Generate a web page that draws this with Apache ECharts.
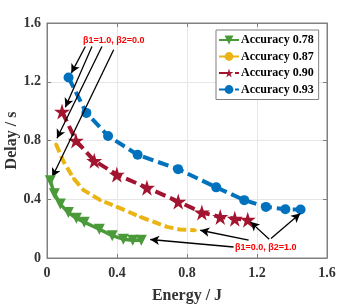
<!DOCTYPE html>
<html><head><meta charset="utf-8">
<script src="https://cdn.jsdelivr.net/npm/echarts@6/dist/echarts.min.js"></script>
<style>html,body{margin:0;padding:0;background:#fff}#c{width:360px;height:305px}</style>
</head><body><div id="c"></div>
<script>
const xTicks = [0, 0.4, 0.8, 1.2, 1.6];
const yTicks = [0, 0.4, 0.8, 1.2, 1.6];
const seriesNames = ['Accuracy 0.78', 'Accuracy 0.87', 'Accuracy 0.90', 'Accuracy 0.93'];
const green = [[0.019,0.526],[0.042,0.438],[0.076,0.367],[0.122,0.309],[0.168,0.271],[0.213,0.244],[0.299,0.196],[0.373,0.152],[0.436,0.128],[0.490,0.121],[0.539,0.121]];
const yellow = [[0.051,0.776],[0.095,0.655],[0.152,0.542],[0.209,0.462],[0.305,0.394],[0.400,0.348],[0.533,0.280],[0.686,0.212],[0.760,0.194],[0.847,0.189]];
const red = [[0.086,0.997],[0.165,0.800],[0.270,0.662],[0.399,0.568],[0.571,0.479],[0.750,0.384],[0.885,0.310],[0.990,0.280],[1.073,0.268],[1.147,0.261]];
const blue = [[0.123,1.229],[0.225,0.988],[0.349,0.831],[0.518,0.703],[0.749,0.605],[0.967,0.481],[1.127,0.394],[1.251,0.348],[1.362,0.332],[1.449,0.330]];
const topNote = 'β1=1.0, β2=0.0';
const bottomNote = 'β1=0.0, β2=1.0';
const topNotePos = [0.382, 1.479];
const bottomNotePos = [1.25, 0.073];
const topArrows = [[[0.219,1.440],[0.139,1.259]],[[0.257,1.440],[0.105,1.027]],[[0.314,1.440],[0.057,0.815]],[[0.381,1.418],[0.030,0.551]]];
const bottomArrows = [[[1.28,0.132],[1.447,0.303]],[[1.270,0.128],[1.162,0.246]],[[1.152,0.121],[0.876,0.189]],[[1.066,0.075],[0.590,0.126]]];

const colors = ['#4B9A3A', '#EAB514', '#A2142F', '#0072BD'];
const star = 'path://M50,0 L61,35 L98,35 L68,57 L79,91 L50,70 L21,91 L32,57 L2,35 L39,35 Z';
const serif = '"Liberation Serif", "DejaVu Serif", serif';
const fmt = v => String(+v.toFixed(1));

const chart = echarts.init(document.getElementById('c'));
const axisBase = {
  min: 0, max: 1.6, interval: 0.4,
  axisLine: {show: true, onZero: false, lineStyle: {color: '#808080', width: 1}},
  axisTick: {show: true, inside: true, length: 4, lineStyle: {color: '#808080'}},
};
const arrowLines = (arr) => arr.map(a => [{coord: a[0]}, {coord: a[1]}]);
chart.setOption({
  animation: false,
  color: colors,
  grid: {left: 47, right: 33, top: 23, bottom: 47, show: true, borderColor: '#808080', borderWidth: 1,
    containLabel: false, outerBoundsMode: 'none'},
  legend: {
    orient: 'vertical', left: 216, top: 30, itemWidth: 20, itemHeight: 11, itemGap: 4.5,
    padding: [4, 5, 4, 2],
    borderColor: '#808080', borderWidth: 1, backgroundColor: '#fff',
    data: seriesNames,
    textStyle: {fontFamily: serif, fontWeight: 'bold', fontSize: 12, color: '#000', padding: [0, 0, 0, -3]}
  },
  xAxis: [
    Object.assign({}, axisBase, {type: 'value', name: 'Energy / J', nameLocation: 'middle', nameGap: 30,
      nameMoveOverlap: false,
      nameTextStyle: {fontFamily: serif, fontWeight: 'bold', fontSize: 16, color: '#333'},
      axisLabel: {fontFamily: serif, fontWeight: 'bold', fontSize: 14, color: '#333', margin: 8, formatter: fmt},
      splitLine: {show: true, lineStyle: {color: '#e6e6e6'}}}),
    Object.assign({}, axisBase, {type: 'value', position: 'top', axisLabel: {show: false}, splitLine: {show: false}})
  ],
  yAxis: [
    Object.assign({}, axisBase, {type: 'value', name: 'Delay / s', nameLocation: 'middle', nameGap: 27,
      nameMoveOverlap: false,
      nameTextStyle: {fontFamily: serif, fontWeight: 'bold', fontSize: 16, color: '#333'},
      axisLabel: {fontFamily: serif, fontWeight: 'bold', fontSize: 14, color: '#333', margin: 6, formatter: fmt},
      splitLine: {show: true, lineStyle: {color: '#e6e6e6'}}}),
    Object.assign({}, axisBase, {type: 'value', position: 'right', axisLabel: {show: false}, splitLine: {show: false}})
  ],
  series: [
    {name: seriesNames[0], type: 'line', data: green, symbol: 'triangle', symbolRotate: 180, symbolSize: 11,
      lineStyle: {width: 3.5, type: 'solid'}, z: 5},
    {name: seriesNames[1], type: 'line', data: yellow, symbol: 'circle', symbolSize: 3, showSymbol: true,
      lineStyle: {width: 4, type: [9, 4]}, z: 4},
    {name: seriesNames[2], type: 'line', data: red, symbol: star, symbolSize: 16,
      lineStyle: {width: 4, type: [11, 5]}, z: 3},
    {name: seriesNames[3], type: 'line', data: blue, symbol: 'circle', symbolSize: 10,
      lineStyle: {width: 4, type: [11, 5]}, z: 2},
    {type: 'line', data: [], silent: true, z: 10,
      markLine: {silent: true, symbol: ['none', 'arrow'], symbolSize: [7, 9], label: {show: false},
        lineStyle: {color: '#000', width: 1.3, type: 'solid'},
        data: arrowLines(topArrows).concat(arrowLines(bottomArrows))},
      markPoint: {silent: true, symbol: 'rect', symbolSize: 0,
        label: {show: true, position: 'inside', fontFamily: '"Liberation Sans", Arial, sans-serif', fontWeight: 'bold', fontSize: 9, color: '#ff0000', formatter: p => p.name},
        data: [{name: topNote, coord: topNotePos}, {name: bottomNote, coord: bottomNotePos}]}
    }
  ]
});
</script></body></html>
